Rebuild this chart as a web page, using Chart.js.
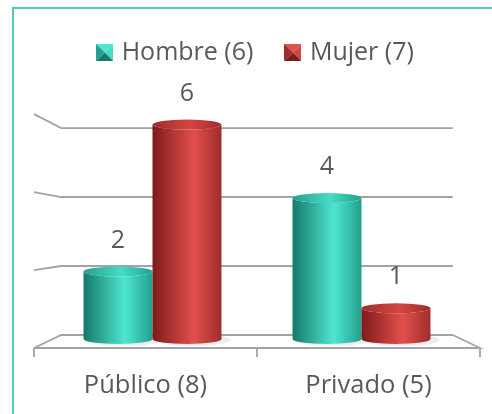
<!DOCTYPE html>
<html lang="es">
  <head>
    <meta charset="utf-8" />
    <title>Público / Privado por sexo</title>
    <style>
      * {
        margin: 0;
        padding: 0;
      }
      body {
        width: 492px;
        height: 414px;
        overflow: hidden;
        background: #fff;
        position: relative;
      }
      .frame {
        position: absolute;
        left: 12px;
        top: 7px;
        width: 520px;
        height: 440px;
        border: 2px solid #4fcdb8;
      }
      .chartBox {
        position: absolute;
        left: 0;
        top: 0;
        width: 492px;
        height: 414px;
      }
    </style>
  </head>
  <body>
    <div class="frame"></div>
    <div class="chartBox"><canvas id="myChart"></canvas></div>

    <script src="https://cdn.jsdelivr.net/npm/chart.js@4.4.0/dist/chart.umd.min.js"></script>
    <script>
      const categories = ["Público (8)", "Privado (5)"];
      const seriesNames = ["Hombre (6)", "Mujer (7)"];
      const hombre = [2, 4];
      const mujer = [6, 1];
      const gridValues = [0, 2, 4, 6];

      const textColor = "#595959";
      const gridColor = "#a3a3a3";
      const font = "'Open Sans', sans-serif";

      // dark edge, highlight, right edge, top cap
      const palettes = [
        { dark: "#16796a", light: "#4ee6d0", edge: "#22a08c", cap: "#47dcc6" },
        { dark: "#7d1b1b", light: "#e2504b", edge: "#a02c2c", cap: "#d44543" },
      ];

      // little bevelled squares for the legend
      function pyramid(c) {
        const s = 17;
        const cv = document.createElement("canvas");
        cv.width = s;
        cv.height = s;
        const g = cv.getContext("2d");
        const tri = (pts, col) => {
          g.beginPath();
          g.moveTo(pts[0], pts[1]);
          g.lineTo(pts[2], pts[3]);
          g.lineTo(s / 2, s / 2);
          g.closePath();
          g.fillStyle = col;
          g.fill();
        };
        tri([0, 0, s, 0], c.light);
        tri([0, 0, 0, s], c.edge);
        tri([s, 0, s, s], c.cap);
        tri([0, s, s, s], c.dark);
        return cv;
      }
      const markers = palettes.map(pyramid);

      const data = {
        labels: categories,
        datasets: [
          { label: seriesNames[0], data: hombre },
          { label: seriesNames[1], data: mujer },
        ].map((d) => ({
          ...d,
          backgroundColor: "rgba(0,0,0,0)",
          borderWidth: 0,
          barPercentage: 1,
          categoryPercentage: 0.66,
        })),
      };

      // perspective helpers: front edge sits a bit lower/wider, back wall a bit higher/narrower
      function walls(chart) {
        const { x: xs, y: ys } = chart.scales;
        const cx = (chart.chartArea.left + chart.chartArea.right) / 2;
        const y0 = ys.getPixelForValue(0);
        return {
          fx: (px) => cx + (px - cx) * 1.067,
          bx: (px) => cx + (px - cx) * 0.937,
          fy: (v) => y0 + 3 + (ys.getPixelForValue(v) - y0) * 1.061,
          by: (v) => y0 - 10 + (ys.getPixelForValue(v) - y0) * 0.939,
          left: chart.chartArea.left,
          right: chart.chartArea.right,
          xs,
        };
      }

      const grid3d = {
        id: "grid3d",
        beforeDatasetsDraw(chart) {
          const { ctx } = chart;
          const w = walls(chart);
          const xl = w.fx(w.left), xr = w.fx(w.right);
          const bl = w.bx(w.left), br = w.bx(w.right);
          ctx.save();
          ctx.strokeStyle = gridColor;
          ctx.lineWidth = 1.8;
          ctx.beginPath();
          gridValues.forEach((v) => {
            ctx.moveTo(xl, w.fy(v));
            ctx.lineTo(bl, w.by(v));
            ctx.lineTo(br, w.by(v));
          });
          // floor right edge and front edge
          ctx.moveTo(br, w.by(0));
          ctx.lineTo(xr, w.fy(0));
          ctx.lineTo(xl, w.fy(0));
          // ticks between categories
          const ticks = [w.left, (w.left + w.right) / 2, w.right];
          ticks.forEach((t) => {
            ctx.moveTo(w.fx(t), w.fy(0));
            ctx.lineTo(w.fx(t), w.fy(0) + 9);
          });
          ctx.stroke();

          // category labels centred under the front edge
          ctx.fillStyle = textColor;
          ctx.font = "25.5px " + font;
          ctx.textAlign = "center";
          ctx.textBaseline = "middle";
          categories.forEach((c, i) => {
            ctx.fillText(c, w.fx(w.xs.getPixelForValue(i)), w.fy(0) + 38);
          });
          ctx.restore();
        },
      };

      const cylinders = {
        id: "cylinders",
        afterDatasetsDraw(chart) {
          const { ctx } = chart;
          ctx.save();
          chart.data.datasets.forEach((ds, i) => {
            const pal = palettes[i];
            chart.getDatasetMeta(i).data.forEach((bar, j) => {
              const { x, y, width, base } = bar.getProps(["x", "y", "width", "base"], true);
              const rx = width / 2, ry = 5;
              const left = x - rx, right = x + rx;
              const bottom = base - 6;

              // soft floor shadow
              ctx.fillStyle = "rgba(0,0,0,0.07)";
              ctx.beginPath();
              ctx.ellipse(x + 6, bottom + 1, rx + 3, ry + 1, 0, 0, Math.PI * 2);
              ctx.fill();

              const g = ctx.createLinearGradient(left, 0, right, 0);
              g.addColorStop(0, pal.dark);
              g.addColorStop(0.6, pal.light);
              g.addColorStop(1, pal.edge);
              ctx.fillStyle = g;
              ctx.beginPath();
              ctx.moveTo(left, y);
              ctx.lineTo(left, bottom);
              ctx.ellipse(x, bottom, rx, ry, 0, Math.PI, 0, true);
              ctx.lineTo(right, y);
              ctx.ellipse(x, y, rx, ry, 0, 0, Math.PI, false);
              ctx.closePath();
              ctx.fill();

              const cg = ctx.createLinearGradient(left, 0, right, 0);
              cg.addColorStop(0, pal.edge);
              cg.addColorStop(0.55, pal.cap);
              cg.addColorStop(1, pal.edge);
              ctx.fillStyle = cg;
              ctx.beginPath();
              ctx.ellipse(x, y, rx, ry, 0, 0, Math.PI * 2);
              ctx.fill();

              ctx.fillStyle = textColor;
              ctx.font = "25px " + font;
              ctx.textAlign = "center";
              ctx.textBaseline = "middle";
              ctx.fillText(ds.data[j], x, y - 31);
            });
          });
          ctx.restore();
        },
      };

      const config = {
        type: "bar",
        data: data,
        options: {
          responsive: true,
          maintainAspectRatio: false,
          animation: false,
          layout: {
            padding: { top: 5, left: 48, right: 26, bottom: 69 },
          },
          scales: {
            x: { display: false },
            y: { display: false, min: 0, max: 7.35 },
          },
          plugins: {
            tooltip: { enabled: false },
            legend: {
              display: true,
              position: "top",
              labels: {
                usePointStyle: true,
                pointStyleWidth: 9,
                boxHeight: 17,
                padding: 35,
                color: textColor,
                font: { family: font, size: 25 },
                generateLabels: (chart) =>
                  chart.data.datasets.map((ds, i) => ({
                    text: ds.label,
                    pointStyle: markers[i],
                    fillStyle: "rgba(0,0,0,0)",
                    strokeStyle: "rgba(0,0,0,0)",
                    lineWidth: 0,
                    fontColor: textColor,
                    hidden: false,
                    datasetIndex: i,
                  })),
              },
            },
          },
        },
        plugins: [grid3d, cylinders],
      };

      const myChart = new Chart(document.getElementById("myChart"), config);
    </script>
  </body>
</html>
